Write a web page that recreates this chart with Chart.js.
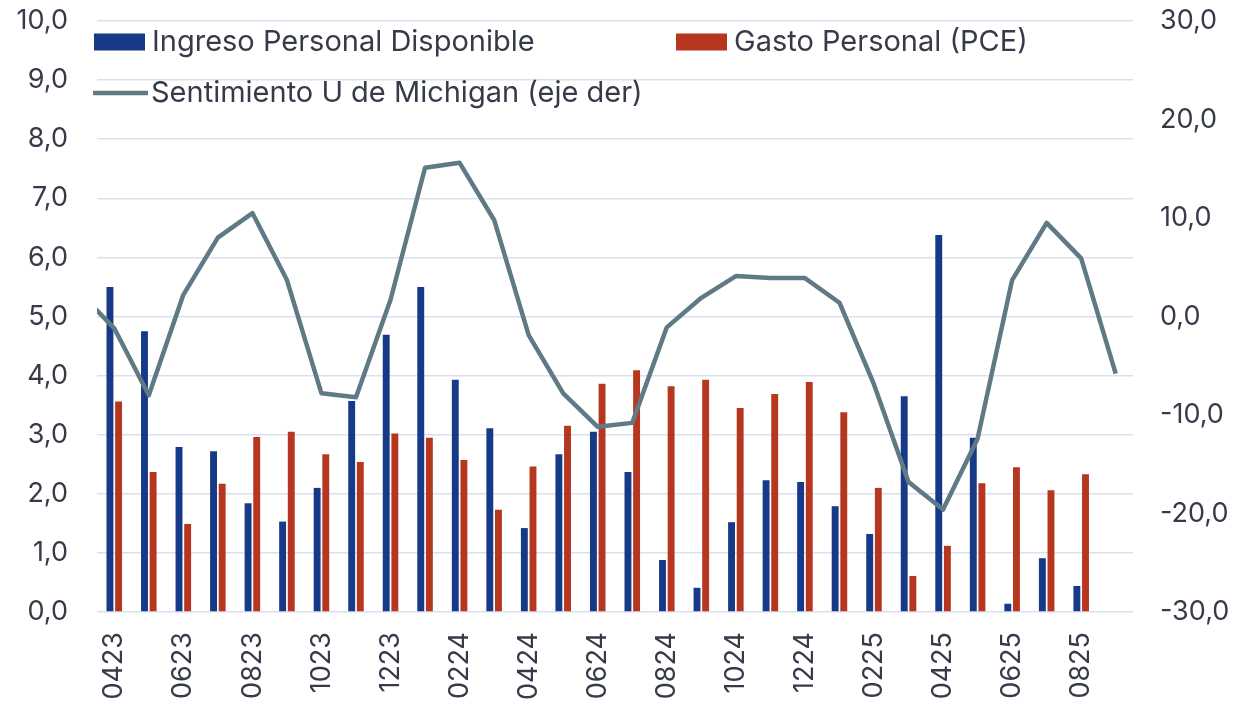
<!DOCTYPE html>
<html>
<head>
<meta charset="utf-8">
<script src="https://cdn.jsdelivr.net/npm/chart.js@4"></script>
<style>
  html, body { margin: 0; padding: 0; background: #ffffff; }
  #wrap { width: 1243px; height: 708px; }
</style>
</head>
<body>
<div id="wrap"><canvas id="consumoChart" width="1243" height="708"></canvas></div>
<script>
// Months (MMYY); the first one only feeds the line stub at the left edge
const months = ["0323", "0423", "0523", "0623", "0723", "0823", "0923", "1023", "1123", "1223",
    "0124", "0224", "0324", "0424", "0524", "0624", "0724", "0824", "0924", "1024", "1124", "1224",
    "0125", "0225", "0325", "0425", "0525", "0625", "0725", "0825", "0925"];

const ingresoDisponible = [null, 5.50, 4.75, 2.79, 2.72, 1.84, 1.53, 2.10, 3.57, 4.69,
    5.50, 3.93, 3.11, 1.42, 2.67, 3.05, 2.37, 0.88, 0.41, 1.52, 2.23, 2.20,
    1.79, 1.32, 3.65, 6.38, 2.95, 0.14, 0.91, 0.44, null];

const gastoPersonal = [null, 3.56, 2.37, 1.49, 2.17, 2.96, 3.05, 2.67, 2.54, 3.02,
    2.95, 2.57, 1.73, 2.46, 3.15, 3.86, 4.09, 3.82, 3.93, 3.45, 3.69, 3.89,
    3.38, 2.10, 0.61, 1.12, 2.18, 2.45, 2.06, 2.33, null];

const sentimientoMichigan = [2.4, -1.2, -8.0, 2.2, 8.0, 10.5, 3.7, -7.8, -8.2, 1.7,
    15.1, 15.6, 9.8, -1.9, -7.8, -11.2, -10.8, -1.1, 1.9, 4.1, 3.9, 3.9,
    1.4, -6.9, -16.8, -19.6, -12.4, 3.7, 9.5, 5.9, -5.8];

const FONT = "Inter, 'DejaVu Sans', sans-serif";
const TEXT_COLOR = "#373b49";

const fmtComma = (v) => Number(v).toFixed(1).replace(".", ",");

// Legend drawn inside the plot, laid out like the original (two columns)
const insideLegend = {
    id: "insideLegend",
    afterDraw(chart, args, opts) {
        const ctx = chart.ctx;
        ctx.save();
        ctx.font = opts.font;
        ctx.textBaseline = "middle";
        ctx.textAlign = "left";
        opts.items.forEach((item) => {
            const ds = chart.data.datasets[item.dataset];
            if (ds.type === "line") {
                ctx.strokeStyle = ds.borderColor;
                ctx.lineWidth = ds.borderWidth;
                ctx.beginPath();
                ctx.moveTo(item.x, item.y);
                ctx.lineTo(item.x + opts.boxWidth + 4, item.y);
                ctx.stroke();
            } else {
                ctx.fillStyle = ds.backgroundColor;
                ctx.fillRect(item.x, item.y - opts.boxHeight / 2, opts.boxWidth, opts.boxHeight);
            }
            ctx.fillStyle = TEXT_COLOR;
            ctx.fillText(ds.label, item.x + opts.textOffset, item.y);
        });
        ctx.restore();
    },
};

const ctx = document.getElementById("consumoChart").getContext("2d");

new Chart(ctx, {
    data: {
        labels: months,
        datasets: [
            {
                type: "line",
                label: "Sentimiento U de Michigan (eje der)",
                data: sentimientoMichigan,
                yAxisID: "y1",
                borderColor: "#5f7985",
                borderWidth: 4.5,
                pointRadius: 0,
                tension: 0,
                borderJoinStyle: "round",
                order: 0,
            },
            {
                type: "bar",
                label: "Ingreso Personal Disponible",
                data: ingresoDisponible,
                yAxisID: "y",
                backgroundColor: "#163a88",
                categoryPercentage: 0.5,
                barPercentage: 0.8,
                order: 1,
            },
            {
                type: "bar",
                label: "Gasto Personal (PCE)",
                data: gastoPersonal,
                yAxisID: "y",
                backgroundColor: "#b6361f",
                categoryPercentage: 0.5,
                barPercentage: 0.8,
                order: 1,
            },
        ],
    },
    options: {
        responsive: false,
        animation: false,
        layout: {
            padding: { top: 21, left: 0, right: 0, bottom: 0 },
        },
        plugins: {
            legend: { display: false },
            tooltip: { enabled: false },
            insideLegend: {
                font: "29px " + FONT,
                boxWidth: 51,
                boxHeight: 17,
                textOffset: 58,
                items: [
                    { dataset: 1, x: 94, y: 42 },
                    { dataset: 2, x: 676, y: 42 },
                    { dataset: 0, x: 93, y: 93 },
                ],
            },
        },
        scales: {
            x: {
                type: "category",
                min: "0423",
                offset: true,
                grid: { display: false, drawTicks: false },
                border: { display: false },
                afterFit: (scale) => { scale.height = 96; },
                ticks: {
                    autoSkip: false,
                    maxRotation: 90,
                    minRotation: 90,
                    padding: 20,
                    color: TEXT_COLOR,
                    font: { family: FONT, size: 27 },
                    callback: function (value, index) {
                        return index % 2 === 0 ? this.getLabelForValue(value) : "";
                    },
                },
            },
            y: {
                position: "left",
                min: 0,
                max: 10,
                afterFit: (scale) => { scale.width = 97; },
                // invisible tick marks give the gap between labels and plot
                grid: {
                    color: "#dcdff0",
                    lineWidth: 1.5,
                    drawTicks: true,
                    tickLength: 29,
                    tickColor: "rgba(0,0,0,0)",
                },
                border: { display: false },
                ticks: {
                    stepSize: 1,
                    padding: 0,
                    color: TEXT_COLOR,
                    font: { family: FONT, size: 27 },
                    callback: (value) => fmtComma(value),
                },
            },
            y1: {
                position: "right",
                min: -30,
                max: 30,
                afterFit: (scale) => { scale.width = 110; },
                grid: {
                    drawOnChartArea: false,
                    drawTicks: true,
                    tickLength: 27,
                    tickColor: "rgba(0,0,0,0)",
                },
                border: { display: false },
                ticks: {
                    stepSize: 10,
                    padding: 0,
                    color: TEXT_COLOR,
                    font: { family: FONT, size: 27 },
                    callback: (value) => fmtComma(value),
                },
            },
        },
    },
    plugins: [insideLegend],
});
</script>
</body>
</html>
